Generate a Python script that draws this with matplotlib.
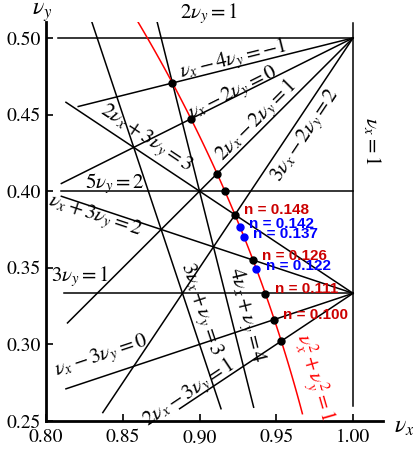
import numpy as np
import matplotlib
matplotlib.use('Agg')
import matplotlib.pyplot as plt

plt.rcParams['mathtext.fontset'] = 'stix'
plt.rcParams['font.family'] = ['STIXGeneral', 'Liberation Serif', 'DejaVu Serif']

# resonance lines a*nux + b*nuy = c, drawn for nux in [x0, x1]
res_a = [0, 1, 1, 2, 3, 2, 0, 1, 0, 1, 2]
res_b = [2, -4, -2, -2, -2, 3, 5, 3, 3, -3, -3]
res_c = [1, -1, 0, 1, 2, 3, 2, 2, 1, 0, 1]
res_x0 = [0.808, 0.821, 0.810, 0.814, 0.837, 0.813, 0.810, 0.810, 0.812, 0.813, 0.887]
res_x1 = [1.0] * 11

# steep lines a*nux + nuy = a, drawn for nuy in [y0, y1]
steep_a = [3, 4]
steep_y0 = [0.258, 0.259]
steep_y1 = [0.516, 0.513]

# nux = 1 line
vert_y = [0.260, 0.510]

# nux^2 + nuy^2 = 1 curve range
circ_x = [0.857, 0.967]

# working points: n = nuy^2
n_black_plain = [0.2215, 0.200, 0.1693, 0.160, 0.0913]
n_black_lab = [0.148, 0.126, 0.111, 0.100]
n_blue_lab = [0.142, 0.137, 0.122]

line_labels = [
    (r'$2\nu_y = 1$', 0.906, 0.516, 0),
    (r'$\nu_x - 4\nu_y = -1$', 0.922, 0.486, 14),
    (r'$\nu_x - 2\nu_y = 0$', 0.922, 0.464, 26.6),
    (r'$2\nu_x - 2\nu_y = 1$', 0.937, 0.446, 45),
    (r'$3\nu_x - 2\nu_y = 2$', 0.969, 0.436, 56.3),
    (r'$\nu_x = 1$', 1.012, 0.433, 270),
    (r'$2\nu_x + 3\nu_y = 3$', 0.865, 0.434, -33.7),
    (r'$5\nu_y = 2$', 0.845, 0.405, 0),
    (r'$\nu_x + 3\nu_y = 2$', 0.832, 0.384, -18.4),
    (r'$3\nu_y = 1$', 0.822, 0.344, 0),
    (r'$\nu_x - 3\nu_y = 0$', 0.836, 0.292, 18.4),
    (r'$2\nu_x - 3\nu_y = 1$', 0.893, 0.268, 33.7),
    (r'$3\nu_x + \nu_y = 3$', 0.901, 0.323, -71.6),
    (r'$4\nu_x + \nu_y = 4$', 0.930, 0.319, -76),
]

fig = plt.figure(figsize=(4.14, 4.63), dpi=100)
ax = fig.add_axes([46 / 414, 42 / 463, 337 / 414, 399 / 463])

for a, b, c, x0, x1 in zip(res_a, res_b, res_c, res_x0, res_x1):
    xs = np.array([x0, x1])
    ax.plot(xs, (c - a * xs) / b, color='black', lw=1.1)

for a, y0, y1 in zip(steep_a, steep_y0, steep_y1):
    ys = np.array([y0, y1])
    ax.plot((a - ys) / a, ys, color='black', lw=1.1)

ax.plot([1.0, 1.0], vert_y, color='black', lw=1.1)

xc = np.linspace(circ_x[0], circ_x[1], 100)
ax.plot(xc, np.sqrt(1 - xc ** 2), color='red', lw=1.1)

def tune(n):
    n = np.array(n)
    return np.sqrt(1 - n), np.sqrt(n)

x, y = tune(n_black_plain + n_black_lab)
ax.plot(x, y, 'o', color='black', ms=5, zorder=5)
x, y = tune(n_blue_lab)
ax.plot(x, y, 'o', color='blue', ms=5, zorder=5)

for n in n_black_lab:
    x, y = tune(n)
    ax.text(x + 0.006, y + 0.003, f'n = {n:.3f}', color='#cc0000', fontsize=11,
            fontweight='bold', family='Liberation Sans', va='center')
for n in n_blue_lab:
    x, y = tune(n)
    ax.text(x + 0.006, y + 0.002, f'n = {n:.3f}', color='blue', fontsize=11,
            fontweight='bold', family='Liberation Sans', va='center')

for txt, tx, ty, rot in line_labels:
    ax.text(tx, ty, txt, fontsize=15, rotation=rot, ha='center', va='center',
            rotation_mode='anchor')

ax.text(0.974, 0.278, r'$\nu_x^2 + \nu_y^2 = 1$', color='red', fontsize=15,
        rotation=-73.8, ha='center', va='center', rotation_mode='anchor')

ax.set_xlim(0.80, 1.0195)
ax.set_ylim(0.25, 0.5104)
ax.set_xticks([0.80, 0.85, 0.90, 0.95, 1.00])
ax.set_yticks([0.25, 0.30, 0.35, 0.40, 0.45, 0.50])
ax.set_xticklabels(['0.80', '0.85', '0.90', '0.95', '1.00'])
ax.set_yticklabels(['0.25', '0.30', '0.35', '0.40', '0.45', '0.50'])
ax.tick_params(direction='in', length=5, width=1.2, labelsize=14)
ax.tick_params(axis='x', pad=6)
for s in ['top', 'right']:
    ax.spines[s].set_visible(False)
for s in ['left', 'bottom']:
    ax.spines[s].set_linewidth(2)

fig.text(42 / 414, 1 - 12 / 463, r'$\nu_y$', fontsize=17, ha='center', va='center')
fig.text(404 / 414, 1 - 427 / 463, r'$\nu_x$', fontsize=17, ha='center', va='center')

fig.savefig('out.png', dpi=100)
